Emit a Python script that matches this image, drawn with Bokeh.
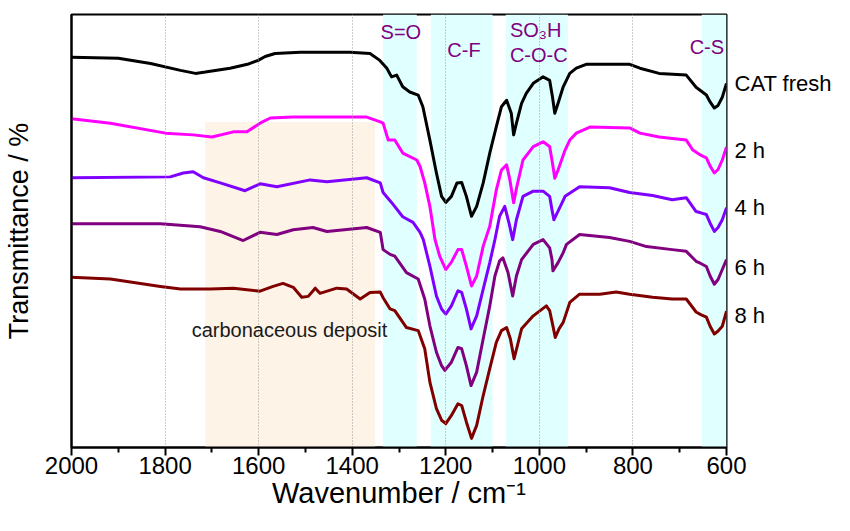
from bokeh.plotting import figure
from bokeh.models import Range1d, FixedTicker, BoxAnnotation, Label, LinearAxis
from bokeh.embed import file_html
from bokeh.resources import INLINE

# ---------------- data (wavenumber / cm-1, offset transmittance, arbitrary %) ----------------
wn_fresh = [2000, 1900, 1831, 1767, 1735, 1714, 1661, 1624, 1601, 1586, 1565, 1511, 1405, 1362,
            1341, 1326, 1316, 1305, 1292, 1277, 1259, 1249, 1234, 1220, 1209, 1200, 1188, 1176,
            1166, 1156, 1145, 1134, 1120, 1106, 1092, 1081, 1070, 1060, 1055, 1049, 1038, 1028,
            1013, 992, 978, 972, 967, 960, 949, 935, 921, 900, 807, 785, 744, 686, 665, 655,
            643, 635, 626, 618, 609, 600]
t_fresh = [90.1, 89.9, 88.7, 87.1, 86.4, 86.7, 87.6, 88.5, 89.4, 90.3, 91.0, 91.3, 91.3, 91.0,
           89.4, 87.6, 85.6, 86.0, 83.3, 82.1, 81.4, 78.7, 71.0, 63.4, 58.0, 56.6, 58.0, 61.1,
           61.2, 58.0, 53.4, 55.7, 61.1, 68.0, 74.1, 78.7, 80.2, 77.2, 72.2, 74.9, 79.5, 81.8,
           84.1, 85.6, 84.8, 81.0, 77.2, 79.5, 83.3, 86.4, 87.6, 88.5, 88.5, 87.6, 86.4, 86.0, 83.2, 82.4,
           81.4, 79.8, 78.4, 79.0, 80.9, 84.1]

wn_2h = [2000, 1917, 1799, 1740, 1700, 1654, 1625, 1597, 1575, 1526, 1369, 1340, 1334, 1323,
         1309, 1292, 1262, 1255, 1245, 1234, 1223, 1213, 1200, 1188, 1174, 1166, 1156, 1145,
         1134, 1120, 1106, 1092, 1081, 1070, 1063, 1055, 1048, 1035, 1013, 992, 978, 972, 967,
         960, 945, 935, 921, 892, 807, 785, 744, 686, 672, 655, 643, 635, 626, 618, 609, 600]
t_2h = [75.9, 74.9, 72.6, 72.2, 71.7, 72.9, 72.9, 74.9, 76.1, 76.3, 76.3, 75.2, 74.9, 71.0,
        71.0, 68.0, 66.4, 64.9, 61.1, 55.7, 48.0, 44.2, 41.1, 42.8, 45.7, 45.7, 41.9, 37.3,
        39.6, 46.5, 51.1, 59.5, 64.1, 65.3, 61.8, 56.5, 60.3, 66.4, 69.5, 70.6, 69.5, 65.7, 62.2,
        64.1, 68.7, 71.0, 72.6, 74.0, 73.8, 72.6, 71.7, 71.0, 68.7, 67.5, 66.9, 65.0, 63.4, 64.2, 66.4, 69.4]

wn_4h = [2000, 1789, 1761, 1740, 1718, 1682, 1629, 1597, 1561, 1490, 1454, 1369, 1340, 1334,
         1316, 1292, 1270, 1255, 1248, 1234, 1220, 1209, 1200, 1188, 1174, 1166, 1156, 1146,
         1134, 1120, 1106, 1095, 1085, 1074, 1065, 1057, 1049, 1035, 1013, 992, 978, 973, 969,
         960, 945, 914, 850, 807, 758, 716, 686, 665, 655, 643, 635, 626, 618, 609, 600]
t_4h = [62.3, 62.5, 63.4, 63.7, 62.3, 61.1, 59.3, 60.9, 60.2, 61.8, 61.4, 62.3, 61.1, 58.9,
        56.6, 53.3, 52.0, 49.7, 48.0, 41.9, 35.0, 32.0, 30.8, 32.7, 36.2, 35.8, 32.0, 27.4,
        30.4, 36.6, 42.7, 48.0, 53.4, 55.7, 51.9, 48.0, 52.6, 58.0, 59.2, 59.2, 58.0, 54.9, 52.6,
        54.6, 58.0, 60.2, 60.0, 58.9, 58.2, 57.2, 57.7, 54.5, 54.2, 53.8, 51.8, 49.9, 50.8, 52.6, 55.4]

wn_6h = [2000, 1810, 1725, 1682, 1633, 1597, 1561, 1526, 1484, 1454, 1369, 1340, 1334, 1319,
         1309, 1284, 1259, 1245, 1234, 1220, 1209, 1202, 1188, 1174, 1166, 1156, 1146, 1134,
         1120, 1106, 1095, 1085, 1078, 1067, 1057, 1049, 1038, 1013, 992, 978, 973, 971, 960,
         949, 942, 914, 850, 807, 771, 716, 686, 665, 655, 643, 635, 626, 618, 609, 600]
t_6h = [51.7, 51.7, 51.0, 49.9, 47.8, 49.7, 49.2, 50.3, 50.8, 49.9, 50.8, 49.7, 45.7, 44.6,
        44.2, 40.4, 38.9, 34.3, 28.1, 22.0, 18.9, 17.8, 19.7, 23.1, 22.8, 18.9, 14.3, 17.4,
        25.1, 32.7, 39.6, 43.1, 43.8, 40.4, 35.0, 39.6, 43.4, 46.9, 48.0, 46.1, 43.4, 40.8, 42.7,
        45.0, 46.9, 49.2, 48.5, 47.6, 46.4, 45.7, 45.3, 43.0, 42.5, 41.8, 39.6, 37.7, 38.8, 41.1, 43.4]

wn_8h = [2000, 1917, 1810, 1767, 1703, 1654, 1597, 1569, 1548, 1526, 1508, 1494, 1479, 1469,
         1433, 1412, 1383, 1362, 1340, 1334, 1319, 1309, 1284, 1259, 1245, 1234, 1220, 1209,
         1200, 1188, 1174, 1166, 1156, 1145, 1134, 1120, 1106, 1092, 1081, 1070, 1062, 1054,
         1047, 1038, 1013, 985, 978, 971, 966, 958, 949, 935, 914, 871, 836, 807, 758, 716,
         686, 665, 655, 643, 635, 626, 618, 609, 600]
t_8h = [39.3, 38.9, 37.2, 36.6, 36.6, 36.8, 36.1, 37.2, 37.9, 37.0, 34.7, 34.9, 36.8, 35.6,
        36.8, 36.6, 34.3, 35.8, 35.9, 34.6, 32.0, 31.6, 27.7, 27.0, 22.8, 15.1, 9.0, 6.3,
        5.5, 7.4, 10.1, 9.7, 5.9, 2.1, 5.1, 12.0, 18.2, 24.3, 27.0, 27.7, 25.1, 20.5,
        23.5, 27.4, 30.4, 32.7, 31.6, 28.1, 25.4, 27.4, 28.9, 33.5, 35.4, 35.4, 35.9, 35.4, 34.7, 34.3,
        34.3, 31.3, 30.7, 30.1, 28.0, 26.2, 26.9, 28.0, 31.5]

series_names = ["CAT fresh", "2 h", "4 h", "6 h", "8 h"]
series_wn = [wn_fresh, wn_2h, wn_4h, wn_6h, wn_8h]
series_t = [t_fresh, t_2h, t_4h, t_6h, t_8h]
series_label_y = [84.1, 68.7, 55.4, 41.6, 30.6]

# assignment bands (cm-1)
band_names = ["S=O", "C-F", "SO3H / C-O-C", "C-S"]
band_hi = [1334, 1232, 1072, 653]
band_lo = [1262, 1100, 939, 600]
deposit_hi, deposit_lo, deposit_top = 1714, 1351, 75.2

major_ticks = [2000, 1800, 1600, 1400, 1200, 1000, 800, 600]
minor_ticks = [1900, 1700, 1500, 1300, 1100, 900, 700]

# ---------------- styles ----------------
colors = ["#000000", "#FF00FF", "#8000FF", "#800080", "#800000"]
FONT = "Liberation Sans"
BAND = "#E0FFFF"
DEPOSIT = "#FDF3E7"
ANNOT = "#800080"

p = figure(width=834, height=515, output_backend="svg", toolbar_location=None,
           x_range=Range1d(2000, 600), y_range=Range1d(0, 100),
           min_border_left=71, min_border_right=107, min_border_top=14, min_border_bottom=68)

p.outline_line_color = "black"
p.outline_line_width = 2
p.background_fill_color = "white"
p.border_fill_color = "white"

# bands
p.add_layout(BoxAnnotation(left=deposit_hi, right=deposit_lo, top=deposit_top,
                           fill_color=DEPOSIT, fill_alpha=1, line_color=None, level="underlay"))
for hi, lo in zip(band_hi, band_lo):
    p.add_layout(BoxAnnotation(left=hi, right=lo, fill_color=BAND, fill_alpha=1,
                               line_color=None, level="underlay"))

# axes
p.xaxis.ticker = FixedTicker(ticks=major_ticks, minor_ticks=minor_ticks)
p.xaxis.axis_label = "Wavenumber / cm\u207b\u00b9"
p.xaxis.axis_label_text_font = FONT
p.xaxis.axis_label_text_font_size = "29px"
p.xaxis.axis_label_text_font_style = "normal"
p.xaxis.axis_label_text_color = "black"
p.xaxis.axis_label_standoff = 0
p.xaxis.major_label_text_font = FONT
p.xaxis.major_label_text_font_size = "24px"
p.xaxis.major_label_text_color = "black"
p.xaxis.major_label_standoff = 1
p.xaxis.axis_line_width = 2
p.xaxis.major_tick_line_width = 2
p.xaxis.minor_tick_line_width = 2
p.xaxis.major_tick_out = 8
p.xaxis.major_tick_in = 0
p.xaxis.minor_tick_out = 5
p.xaxis.minor_tick_in = 0

p.yaxis.ticker = FixedTicker(ticks=[])
p.yaxis.axis_label = "Transmittance / %"
p.yaxis.axis_label_text_font = FONT
p.yaxis.axis_label_text_font_size = "27px"
p.yaxis.axis_label_text_font_style = "normal"
p.yaxis.axis_label_text_color = "black"
p.yaxis.axis_label_standoff = 38
p.yaxis.axis_line_width = 2
p.yaxis.major_tick_line_color = None
p.yaxis.minor_tick_line_color = None
p.yaxis.major_label_text_font_size = "0px"

# series names on the right, as a tick-less right axis
right = LinearAxis(ticker=FixedTicker(ticks=series_label_y),
                   major_label_overrides={y: n for y, n in zip(series_label_y, series_names)})
right.axis_line_color = None
right.major_tick_line_color = None
right.minor_tick_line_color = None
right.major_tick_out = 0
right.major_tick_in = 0
right.major_label_standoff = 8
right.major_label_text_font = FONT
right.major_label_text_font_size = "22px"
right.major_label_text_color = "black"
p.add_layout(right, "right")

p.xgrid.grid_line_color = "#9a9a9a"
p.xgrid.grid_line_dash = "1 2"
p.xgrid.grid_line_width = 1
p.xgrid.level = "glyph"
p.ygrid.visible = False

# spectra
for wn, t, c in zip(series_wn, series_t, colors):
    p.line(wn, t, line_color=c, line_width=3, line_join="round")

# band labels
ann = [("S=O", 1296, 95.9, "center"), ("C-F", 1161, 91.7, "center"),
       ("SO\u2083H", 1063, 96.4, "left"), ("C-O-C", 1063, 90.6, "left"),
       ("C-S", 642, 92.4, "center")]
for txt, x, y, al in ann:
    p.add_layout(Label(x=x, y=y, text=txt, text_font=FONT, text_font_size="20px",
                       text_color=ANNOT, text_align=al, text_baseline="middle"))

p.add_layout(Label(x=1534, y=27.1, text="carbonaceous deposit", text_font=FONT,
                   text_font_size="20px", text_color="#1a1a1a", text_align="center",
                   text_baseline="middle"))

open("out.html", "w").write(file_html(p, INLINE))
